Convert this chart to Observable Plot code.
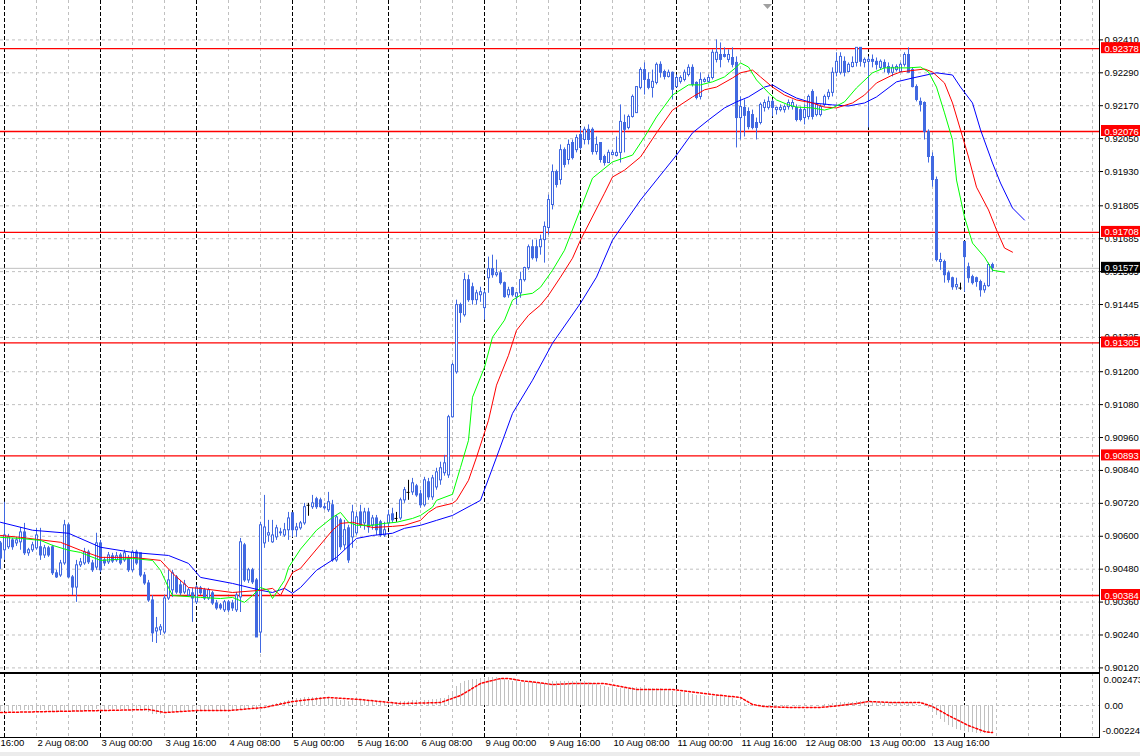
<!DOCTYPE html>
<html><head><meta charset="utf-8">
<script src="https://cdn.jsdelivr.net/npm/d3@7"></script>
<script src="https://cdn.jsdelivr.net/npm/@observablehq/plot@0.6"></script>
<style>
html,body{margin:0;padding:0;background:#fff;width:1140px;height:756px;overflow:hidden;}
#wrap{position:relative;width:1140px;height:756px;}
#main,#sub{position:absolute;left:0;}
#main{top:0;}#sub{top:672px;}
#band{position:absolute;left:0;top:752px;width:1140px;height:4px;background:#ececec;}
#shift{position:absolute;left:763px;top:4px;}
</style></head><body><div id="wrap"><div id="band"></div><div id="main"></div><div id="sub"></div>
<svg id="shift" width="10" height="7"><path d="M0,0 L9,0 L4.5,5 Z" fill="#a0a0a0"/></svg></div>
<script>
// ---- H1 candles (bar 0 = 1 Aug 23:00, bar 1 = 2 Aug 00:00 ...) ----
const open = [
0.90574,0.90549,0.90560,0.90585,0.90574,0.90578,0.90614,0.90538,0.90549,0.90556,
0.90560,0.90530,0.90556,0.90560,0.90465,0.90457,0.90501,0.90640,0.90450,0.90413,
0.90494,0.90501,0.90541,0.90501,0.90486,0.90574,0.90512,0.90505,0.90527,0.90512,
0.90530,0.90512,0.90519,0.90476,0.90541,0.90538,0.90457,0.90428,0.90366,0.90253,
0.90257,0.90249,0.90373,0.90403,0.90450,0.90421,0.90395,0.90384,0.90392,0.90359,
0.90410,0.90403,0.90373,0.90392,0.90355,0.90348,0.90330,0.90359,0.90355,0.90330,
0.90377,0.90567,0.90439,0.90476,0.90439,0.90249,0.90574,0.90603,0.90578,0.90596,
0.90614,0.90603,0.90622,0.90684,0.90622,0.90629,0.90647,0.90713,0.90706,0.90735,
0.90731,0.90706,0.90695,0.90713,0.90512,0.90658,0.90567,0.90629,0.90596,0.90611,
0.90687,0.90647,0.90687,0.90640,0.90665,0.90651,0.90603,0.90647,0.90680,0.90665,
0.90665,0.90731,0.90760,0.90760,0.90782,0.90753,0.90713,0.90797,0.90742,0.90778,
0.90804,0.90830,0.90822,0.91034,0.91198,0.91443,0.91406,0.91534,0.91508,0.91461,
0.91479,0.91432,0.91541,0.91574,0.91552,0.91559,0.91523,0.91479,0.91505,0.91472,
0.91486,0.91534,0.91578,0.91654,0.91654,0.91654,0.91680,0.91724,0.91808,0.91928,
0.91899,0.92008,0.91972,0.92034,0.92008,0.92063,0.92045,0.92082,0.92082,0.92001,
0.92034,0.91983,0.91961,0.91990,0.91987,0.91998,0.92107,0.92089,0.92129,0.92143,
0.92235,0.92300,0.92264,0.92235,0.92253,0.92319,0.92293,0.92275,0.92290,0.92238,
0.92257,0.92264,0.92282,0.92308,0.92253,0.92202,0.92257,0.92257,0.92271,0.92337,
0.92355,0.92355,0.92337,0.92344,0.92326,0.92125,0.92162,0.92147,0.92136,0.92107,
0.92107,0.92162,0.92162,0.92184,0.92154,0.92154,0.92154,0.92165,0.92165,0.92162,
0.92154,0.92125,0.92129,0.92220,0.92136,0.92136,0.92173,0.92202,0.92217,0.92290,
0.92290,0.92330,0.92293,0.92311,0.92326,0.92381,0.92326,0.92330,0.92337,0.92330,
0.92308,0.92326,0.92311,0.92290,0.92300,0.92293,0.92319,0.92355,0.92300,0.92238,
0.92184,0.92180,0.92074,0.91983,0.91899,0.91600,0.91600,0.91559,0.91541,0.91508,
0.91505,0.91673,0.91581,0.91545,0.91541,0.91527,0.91497,0.91512,0.91589];
const high = [
0.90581,0.90724,0.90607,0.90592,0.90596,0.90632,0.90647,0.90556,0.90578,0.90629,
0.90629,0.90567,0.90563,0.90567,0.90476,0.90512,0.90658,0.90647,0.90457,0.90512,
0.90519,0.90556,0.90549,0.90512,0.90611,0.90585,0.90523,0.90541,0.90538,0.90541,
0.90538,0.90549,0.90530,0.90549,0.90549,0.90538,0.90468,0.90439,0.90384,0.90304,
0.90278,0.90384,0.90476,0.90476,0.90457,0.90439,0.90439,0.90410,0.90410,0.90421,
0.90417,0.90410,0.90410,0.90399,0.90366,0.90355,0.90366,0.90366,0.90366,0.90395,
0.90592,0.90574,0.90483,0.90483,0.90446,0.90651,0.90749,0.90658,0.90658,0.90640,
0.90629,0.90647,0.90687,0.90684,0.90647,0.90654,0.90720,0.90720,0.90749,0.90742,
0.90739,0.90720,0.90760,0.90731,0.90676,0.90665,0.90658,0.90640,0.90713,0.90687,
0.90713,0.90702,0.90702,0.90676,0.90676,0.90658,0.90651,0.90695,0.90702,0.90687,
0.90739,0.90778,0.90804,0.90811,0.90789,0.90768,0.90815,0.90811,0.90822,0.90848,
0.90870,0.90895,0.91041,0.91231,0.91461,0.91450,0.91559,0.91552,0.91523,0.91497,
0.91508,0.91497,0.91618,0.91625,0.91607,0.91570,0.91527,0.91508,0.91508,0.91490,
0.91563,0.91581,0.91662,0.91680,0.91680,0.91698,0.91746,0.91844,0.91954,0.91935,
0.92027,0.92016,0.92045,0.92045,0.92063,0.92089,0.92092,0.92100,0.92089,0.92056,
0.92034,0.91990,0.92008,0.92008,0.92056,0.92173,0.92136,0.92136,0.92209,0.92238,
0.92308,0.92326,0.92290,0.92300,0.92326,0.92330,0.92300,0.92300,0.92293,0.92282,
0.92279,0.92300,0.92319,0.92319,0.92257,0.92290,0.92271,0.92282,0.92374,0.92410,
0.92399,0.92381,0.92374,0.92381,0.92348,0.92202,0.92191,0.92162,0.92154,0.92125,
0.92180,0.92191,0.92202,0.92191,0.92165,0.92173,0.92173,0.92191,0.92191,0.92173,
0.92165,0.92173,0.92209,0.92228,0.92202,0.92173,0.92209,0.92228,0.92308,0.92363,
0.92363,0.92348,0.92326,0.92348,0.92381,0.92381,0.92344,0.92348,0.92355,0.92344,
0.92337,0.92337,0.92326,0.92319,0.92319,0.92326,0.92363,0.92381,0.92308,0.92246,
0.92198,0.92184,0.92082,0.91998,0.91910,0.91632,0.91607,0.91567,0.91545,0.91541,
0.91523,0.91673,0.91596,0.91552,0.91545,0.91534,0.91523,0.91596,0.91596];
const low = [
0.90479,0.90512,0.90552,0.90549,0.90563,0.90549,0.90530,0.90527,0.90541,0.90549,
0.90512,0.90519,0.90523,0.90457,0.90446,0.90450,0.90494,0.90446,0.90384,0.90359,
0.90486,0.90494,0.90497,0.90468,0.90476,0.90468,0.90490,0.90497,0.90501,0.90505,
0.90494,0.90505,0.90468,0.90468,0.90494,0.90450,0.90421,0.90359,0.90213,0.90209,
0.90238,0.90242,0.90366,0.90377,0.90388,0.90384,0.90388,0.90377,0.90286,0.90352,
0.90384,0.90366,0.90366,0.90348,0.90330,0.90330,0.90322,0.90322,0.90326,0.90322,
0.90322,0.90432,0.90428,0.90424,0.90231,0.90173,0.90556,0.90578,0.90574,0.90585,
0.90600,0.90596,0.90585,0.90596,0.90596,0.90622,0.90640,0.90673,0.90698,0.90698,
0.90702,0.90695,0.90687,0.90505,0.90505,0.90549,0.90549,0.90501,0.90556,0.90603,
0.90629,0.90622,0.90611,0.90622,0.90603,0.90596,0.90596,0.90629,0.90647,0.90651,
0.90658,0.90720,0.90731,0.90749,0.90742,0.90702,0.90706,0.90731,0.90731,0.90768,
0.90786,0.90819,0.90811,0.91031,0.91191,0.91377,0.91399,0.91453,0.91443,0.91443,
0.91453,0.91388,0.91486,0.91541,0.91545,0.91516,0.91468,0.91468,0.91472,0.91443,
0.91468,0.91527,0.91570,0.91607,0.91600,0.91625,0.91596,0.91698,0.91790,0.91870,
0.91881,0.91943,0.91954,0.91972,0.91998,0.92008,0.92027,0.92027,0.91990,0.91990,
0.91961,0.91950,0.91961,0.91987,0.91983,0.91961,0.91998,0.92082,0.92125,0.92143,
0.92228,0.92209,0.92228,0.92198,0.92246,0.92271,0.92264,0.92271,0.92191,0.92235,
0.92249,0.92257,0.92275,0.92238,0.92191,0.92191,0.92253,0.92253,0.92264,0.92326,
0.92308,0.92344,0.92326,0.92308,0.92016,0.92045,0.92056,0.92082,0.92082,0.92045,
0.92100,0.92147,0.92154,0.92129,0.92136,0.92147,0.92143,0.92154,0.92154,0.92111,
0.92111,0.92100,0.92118,0.92118,0.92129,0.92129,0.92165,0.92191,0.92202,0.92275,
0.92282,0.92275,0.92290,0.92308,0.92311,0.92311,0.92308,0.92089,0.92308,0.92300,
0.92300,0.92290,0.92282,0.92275,0.92293,0.92290,0.92311,0.92290,0.92235,0.92184,
0.92147,0.92045,0.91961,0.91873,0.91600,0.91570,0.91523,0.91523,0.91497,0.91497,
0.91497,0.91490,0.91523,0.91516,0.91508,0.91472,0.91486,0.91508,0.91563];
const close = [
0.90519,0.90603,0.90596,0.90560,0.90585,0.90614,0.90538,0.90549,0.90567,0.90603,
0.90530,0.90556,0.90530,0.90465,0.90450,0.90501,0.90640,0.90450,0.90413,0.90494,
0.90505,0.90541,0.90505,0.90476,0.90574,0.90476,0.90501,0.90530,0.90508,0.90527,
0.90501,0.90538,0.90476,0.90541,0.90501,0.90457,0.90428,0.90366,0.90246,0.90264,
0.90268,0.90373,0.90439,0.90465,0.90395,0.90392,0.90424,0.90403,0.90373,0.90413,
0.90392,0.90373,0.90403,0.90355,0.90337,0.90337,0.90359,0.90330,0.90337,0.90384,
0.90578,0.90439,0.90476,0.90432,0.90231,0.90640,0.90632,0.90611,0.90603,0.90629,
0.90611,0.90622,0.90665,0.90622,0.90632,0.90647,0.90706,0.90713,0.90720,0.90706,
0.90706,0.90702,0.90724,0.90512,0.90669,0.90560,0.90622,0.90512,0.90687,0.90669,
0.90640,0.90687,0.90632,0.90665,0.90622,0.90603,0.90622,0.90676,0.90658,0.90665,
0.90731,0.90768,0.90760,0.90793,0.90749,0.90713,0.90804,0.90742,0.90811,0.90833,
0.90848,0.90866,0.91034,0.91224,0.91443,0.91414,0.91534,0.91461,0.91461,0.91486,
0.91490,0.91486,0.91574,0.91552,0.91559,0.91523,0.91472,0.91497,0.91479,0.91486,
0.91534,0.91578,0.91654,0.91614,0.91614,0.91680,0.91728,0.91826,0.91928,0.91881,
0.92008,0.91954,0.92027,0.91979,0.92052,0.92016,0.92082,0.92045,0.92001,0.92027,
0.91972,0.91961,0.91998,0.91998,0.91998,0.92111,0.92082,0.92129,0.92202,0.92238,
0.92300,0.92264,0.92235,0.92257,0.92319,0.92290,0.92275,0.92290,0.92228,0.92271,
0.92271,0.92290,0.92308,0.92246,0.92198,0.92264,0.92264,0.92271,0.92363,0.92363,
0.92337,0.92348,0.92355,0.92319,0.92125,0.92165,0.92133,0.92092,0.92089,0.92089,
0.92173,0.92180,0.92184,0.92162,0.92162,0.92162,0.92165,0.92180,0.92180,0.92118,
0.92118,0.92154,0.92202,0.92129,0.92173,0.92165,0.92202,0.92217,0.92290,0.92330,
0.92348,0.92290,0.92319,0.92326,0.92381,0.92330,0.92337,0.92337,0.92330,0.92319,
0.92330,0.92308,0.92290,0.92308,0.92311,0.92319,0.92355,0.92290,0.92238,0.92191,
0.92173,0.92074,0.91983,0.91899,0.91607,0.91607,0.91552,0.91534,0.91508,0.91516,
0.91505,0.91618,0.91541,0.91523,0.91527,0.91497,0.91512,0.91589,0.91578];

// ---- Alligator lines (bar index, value) ----
const jawBar = [0,8,17,25,33,42,47,50,58,65,68,71,73,75,79,84,89,93,98,101,105,109,113,120,124,128,133,138,145,149,153,160,164,169,173,177,181,184,187,191,193,196,199,203,208,212,216,219,224,228,234,238,240,243,245,248,250,253,256];
const jawVal = [0.90651,0.90622,0.90611,0.90560,0.90541,0.90530,0.90501,0.90450,0.90428,0.90403,0.90395,0.90410,0.90392,0.90413,0.90476,0.90523,0.90592,0.90603,0.90611,0.90629,0.90640,0.90658,0.90676,0.90731,0.90888,0.91048,0.91169,0.91304,0.91450,0.91545,0.91680,0.91826,0.91899,0.91990,0.92071,0.92118,0.92162,0.92184,0.92202,0.92238,0.92246,0.92220,0.92198,0.92180,0.92173,0.92169,0.92180,0.92202,0.92257,0.92271,0.92290,0.92282,0.92238,0.92180,0.92082,0.91961,0.91888,0.91797,0.91753];
const teethBar = [0,5,15,20,25,33,40,43,47,50,58,65,68,70,73,75,83,85,88,93,98,101,105,107,109,113,114,117,119,122,124,127,129,132,135,137,140,143,145,151,153,156,160,164,168,173,176,179,183,185,188,190,193,196,199,203,206,209,213,216,219,223,225,231,233,236,238,240,242,244,247,249,251,253];
const teethVal = [0.90603,0.90596,0.90578,0.90549,0.90523,0.90523,0.90512,0.90465,0.90413,0.90410,0.90395,0.90403,0.90410,0.90384,0.90468,0.90483,0.90622,0.90647,0.90651,0.90632,0.90636,0.90640,0.90658,0.90687,0.90706,0.90720,0.90731,0.90804,0.90888,0.91023,0.91151,0.91260,0.91351,0.91406,0.91443,0.91479,0.91545,0.91614,0.91680,0.91851,0.91910,0.91935,0.91983,0.92071,0.92154,0.92202,0.92228,0.92238,0.92271,0.92290,0.92300,0.92275,0.92238,0.92209,0.92191,0.92180,0.92165,0.92162,0.92180,0.92209,0.92253,0.92282,0.92293,0.92304,0.92293,0.92253,0.92180,0.92082,0.91983,0.91873,0.91790,0.91717,0.91651,0.91636];
const lipsBar = [0,5,10,13,17,20,25,33,38,40,42,43,50,55,58,61,63,65,67,68,71,72,75,79,83,85,87,89,93,96,99,103,105,108,109,113,115,117,118,121,123,126,128,130,133,135,138,141,148,153,158,161,164,168,172,175,178,181,184,185,187,189,192,194,197,199,203,206,208,211,214,218,221,227,230,232,234,236,238,239,241,243,246,248,251];
const lipsVal = [0.90596,0.90592,0.90585,0.90567,0.90549,0.90541,0.90512,0.90519,0.90512,0.90476,0.90413,0.90384,0.90377,0.90373,0.90377,0.90359,0.90384,0.90413,0.90403,0.90373,0.90439,0.90486,0.90553,0.90622,0.90669,0.90687,0.90651,0.90640,0.90640,0.90647,0.90651,0.90665,0.90676,0.90706,0.90731,0.90753,0.90851,0.90950,0.91107,0.91216,0.91326,0.91388,0.91461,0.91479,0.91486,0.91508,0.91570,0.91643,0.91906,0.91965,0.91990,0.92056,0.92129,0.92209,0.92246,0.92246,0.92257,0.92275,0.92311,0.92326,0.92311,0.92264,0.92217,0.92191,0.92173,0.92165,0.92162,0.92154,0.92162,0.92184,0.92235,0.92290,0.92308,0.92308,0.92311,0.92293,0.92238,0.92144,0.92045,0.91899,0.91764,0.91669,0.91618,0.91570,0.91563];

// ---- oscillator (histogram per bar + signal) ----
const histo = [
-0.00046,-0.00046,-0.00046,-0.00046,-0.00039,-0.00039,-0.00039,-0.00039,-0.00039,-0.00031,
-0.00039,-0.00039,-0.00039,-0.00046,-0.00046,-0.00046,-0.00039,-0.00046,-0.00054,-0.00046,
-0.00046,-0.00039,-0.00039,-0.00039,-0.00031,-0.00039,-0.00039,-0.00031,-0.00031,-0.00031,
-0.00031,-0.00031,-0.00039,-0.00031,-0.00031,-0.00039,-0.00046,-0.00054,-0.00070,-0.00070,
-0.00070,-0.00062,-0.00054,-0.00046,-0.00046,-0.00046,-0.00039,-0.00039,-0.00039,-0.00039,
-0.00039,-0.00039,-0.00039,-0.00039,-0.00046,-0.00046,-0.00046,-0.00046,-0.00046,-0.00046,
-0.00031,-0.00031,-0.00031,-0.00031,-0.00039,-0.00023,-0.00008,0,0.00008,0.00015,
0.00023,0.00031,0.00039,0.00046,0.00054,0.00054,0.00062,0.00062,0.00062,0.00062,
0.00062,0.00062,0.00062,0.00046,0.00046,0.00039,0.00039,0.00031,0.00039,0.00039,
0.00039,0.00039,0.00031,0.00031,0.00031,0.00023,0.00023,0.00023,0.00023,0.00023,
0.00031,0.00031,0.00031,0.00039,0.00039,0.00031,0.00039,0.00039,0.00046,0.00046,
0.00054,0.00054,0.00077,0.00108,0.00147,0.00170,0.00186,0.00193,0.00201,0.00201,
0.00209,0.00209,0.00216,0.00216,0.00216,0.00209,0.00201,0.00193,0.00186,0.00178,
0.00178,0.00178,0.00178,0.00178,0.00170,0.00170,0.00170,0.00178,0.00186,0.00186,
0.00186,0.00186,0.00186,0.00186,0.00186,0.00186,0.00186,0.00178,0.00170,0.00162,
0.00155,0.00147,0.00139,0.00131,0.00131,0.00131,0.00131,0.00131,0.00139,0.00139,
0.00139,0.00139,0.00131,0.00131,0.00131,0.00131,0.00124,0.00116,0.00108,0.00108,
0.00100,0.00100,0.00093,0.00085,0.00077,0.00077,0.00070,0.00070,0.00070,0.00077,
0.00070,0.00062,0.00062,0.00054,0.00039,0.00023,0.00015,0.00008,0,-0.00008,
-0.00008,-0.00008,-0.00008,-0.00008,-0.00008,-0.00008,-0.00008,-0.00008,-0.00008,-0.00008,
-0.00008,-0.00008,0,0,0,0,0.00008,0.00008,0.00015,0.00023,
0.00023,0.00023,0.00023,0.00023,0.00031,0.00031,0.00031,0.00023,0.00023,0.00023,
0.00023,0.00023,0.00023,0.00023,0.00023,0.00023,0.00023,0.00023,0.00015,0.00008,
0,-0.00008,-0.00023,-0.00039,-0.00077,-0.00108,-0.00131,-0.00155,-0.00170,-0.00186,
-0.00193,-0.00201,-0.00209,-0.00209,-0.00216,-0.00216,-0.00216,-0.00216,-0.00216];
const sigBar = [0,25,37,41,49,57,66,73,82,90,100,110,115,120,125,127,130,134,138,143,151,155,159,168,172,178,185,188,191,197,205,210,214,217,223,230,233,237,242,246,248];
const sigVal = [-0.00054,-0.00039,-0.00031,-0.00054,-0.00039,-0.00039,-0.00015,0.00031,0.00062,0.00046,0.00015,0.00023,0.00077,0.00170,0.00209,0.00209,0.00193,0.00178,0.00162,0.00170,0.00170,0.00147,0.00124,0.00124,0.00108,0.00085,0.00062,0.00008,-0.00008,-0.00015,-0.00015,0,0.00015,0.00031,0.00023,0.00023,-0.00008,-0.00077,-0.00155,-0.00201,-0.00209];

// ---- scales / labels ----
const priceTicks = [0.92410,0.92290,0.92170,0.92050,0.91930,0.91805,0.91685,0.91565,0.91445,0.91325,0.91200,0.91080,0.90960,0.90840,0.90720,0.90600,0.90480,0.90360,0.90240,0.90120];
const levels = [0.92378,0.92076,0.91708,0.91305,0.90893,0.90384];
const bid = 0.91577;
const oscTop = 0.002473, oscBottom = -0.00224;
const dayStartBars = [1,25,49,73,97,121,145,169,193,217,241,265];
const timeLabelBars = [-7,9,25,41,57,73,89,105,121,137,153,169,185,201,217,233];
const timeLabels = ["1 Aug 16:00","2 Aug 08:00","3 Aug 00:00","3 Aug 16:00","4 Aug 08:00","5 Aug 00:00","5 Aug 16:00","6 Aug 08:00","9 Aug 00:00","9 Aug 16:00","10 Aug 08:00","11 Aug 00:00","11 Aug 16:00","12 Aug 08:00","13 Aug 00:00","13 Aug 16:00"];

const FONT = '"Liberation Sans", Arial, sans-serif';
const FS = 9.5;
const CANDLE = "#4169e1";
const GRID = "#c0c0c0";
const xDomain = [0, 274.75];
const xMax = xDomain[1];
const yDomain = [0.90120, 0.92410], yRange = [667.4, 39.4];
const px = (yDomain[1] - yDomain[0]) / (yRange[0] - yRange[1]); // price per pixel
const gridBars = d3.range(1, 275, 8).filter(b => !dayStartBars.includes(b));

const bars = open.map((o, i) => ({k: i, o, h: high[i], l: low[i], c: close[i],
  top: Math.max(o, close[i]) + px / 2, bot: Math.min(o, close[i]) - px / 2}));
const bears = bars.filter(d => d.c < d.o);
const bulls = bars.filter(d => d.c > d.o);
const bullsInner = bulls.filter(d => d.c - d.o > 1.5 * px);
const dojis = bars.filter(d => d.c === d.o);
const pairs = (ks, vs) => ks.map((k, i) => ({k, v: vs[i]}));
const fmt5 = d => d.toFixed(5);

const vGrid = [
  Plot.ruleX(gridBars, {x: d => d, stroke: GRID, strokeDasharray: "3,3"}),
  Plot.ruleX(dayStartBars, {x: d => d, stroke: "black", strokeDasharray: "4,2"})
];

const main = Plot.plot({
  width: 1140, height: 672,
  marginLeft: 0, marginRight: 41, marginTop: 0, marginBottom: 0,
  x: {type: "linear", domain: xDomain, range: [0, 1099], axis: null},
  y: {type: "linear", domain: yDomain, range: yRange, axis: null},
  style: {fontFamily: FONT, fontSize: FS + "px", background: "white", overflow: "visible"},
  marks: [
    Plot.ruleY(priceTicks, {y: d => d, stroke: GRID, strokeDasharray: "3,3"}),
    ...vGrid,
    Plot.ruleY([bid], {y: d => d, stroke: GRID}),
    Plot.ruleY(levels, {y: d => d, stroke: "#ff0000", strokeWidth: 1.3}),
    // wicks
    Plot.ruleX(bars, {x: "k", y1: "l", y2: "h", stroke: d => d.o === d.c ? "black" : CANDLE}),
    // bodies
    Plot.ruleX(bears, {x: "k", y1: "bot", y2: "top", stroke: CANDLE, strokeWidth: 3}),
    Plot.ruleX(bulls, {x: "k", y1: "bot", y2: "top", stroke: CANDLE, strokeWidth: 3}),
    Plot.ruleX(bullsInner, {x: "k", y1: d => d.o + px / 2, y2: d => d.c - px / 2, stroke: "white", strokeWidth: 1}),
    Plot.ruleY(dojis, {y: "o", x1: d => d.k - 0.375, x2: d => d.k + 0.375, stroke: "black"}),
    // alligator
    Plot.line(pairs(jawBar, jawVal), {x: "k", y: "v", stroke: "#0000ff", strokeWidth: 1}),
    Plot.line(pairs(teethBar, teethVal), {x: "k", y: "v", stroke: "#ff0000", strokeWidth: 1}),
    Plot.line(pairs(lipsBar, lipsVal), {x: "k", y: "v", stroke: "#00ff00", strokeWidth: 1}),
    Plot.frame({anchor: "right", stroke: "black"}),
    Plot.frame({anchor: "bottom", stroke: "black"}),
    Plot.ruleY(priceTicks, {y: d => d, x1: xMax, x2: xMax + 1, stroke: "black"}),
    Plot.text(priceTicks, {y: d => d, text: fmt5, frameAnchor: "right", dx: 5, textAnchor: "start", fill: "black", fontSize: FS}),
    Plot.rect(levels, {x1: xMax, x2: xMax + 12, y1: d => d, y2: d => d, insetLeft: 2, insetTop: -6, insetBottom: -5, fill: "red"}),
    Plot.text(levels, {y: d => d, text: fmt5, frameAnchor: "right", dx: 5, textAnchor: "start", fill: "white", fontSize: FS}),
    Plot.rect([bid], {x1: xMax, x2: xMax + 12, y1: d => d, y2: d => d, insetLeft: 2, insetTop: -6, insetBottom: -5, fill: "black"}),
    Plot.text([bid], {y: d => d, text: fmt5, frameAnchor: "right", dx: 5, textAnchor: "start", fill: "white", fontSize: FS})
  ]
});
document.getElementById("main").appendChild(main);

const sub = Plot.plot({
  width: 1140, height: 84,
  marginLeft: 0, marginRight: 41, marginTop: 1, marginBottom: 19,
  x: {type: "linear", domain: xDomain, range: [0, 1099], axis: null},
  y: {type: "linear", domain: [oscBottom, oscTop], range: [62, 1], axis: null},
  style: {fontFamily: FONT, fontSize: FS + "px", background: "transparent", overflow: "visible"},
  marks: [
    ...vGrid,
    Plot.ruleY([0], {y: d => d, stroke: GRID, strokeDasharray: "3,3"}),
    Plot.ruleX(bars, {x: "k", y1: 0, y2: d => histo[d.k], stroke: GRID}),
    Plot.line(pairs(sigBar, sigVal), {x: "k", y: "v", stroke: "red", strokeDasharray: "2,2"}),
    Plot.frame({anchor: "top", stroke: "black"}),
    Plot.frame({anchor: "right", stroke: "black"}),
    Plot.frame({anchor: "bottom", stroke: "black"}),
    Plot.text([oscTop], {y: d => d, text: ["0.002473"], frameAnchor: "right", dx: 4, dy: 3, lineAnchor: "top", textAnchor: "start", fill: "black", fontSize: FS}),
    Plot.text([0], {y: d => d, text: ["0.00"], frameAnchor: "right", dx: 5, textAnchor: "start", fill: "black", fontSize: FS}),
    Plot.text([oscBottom], {y: d => d, text: ["-0.00224"], frameAnchor: "right", dx: 3, dy: -1, lineAnchor: "bottom", textAnchor: "start", fill: "black", fontSize: FS}),
    Plot.text(timeLabelBars, {x: d => d, text: timeLabels, frameAnchor: "bottom", dy: 8, dx: 1, textAnchor: "start", fill: "black", fontSize: FS})
  ]
});
document.getElementById("sub").appendChild(sub);
</script>
</body></html>
